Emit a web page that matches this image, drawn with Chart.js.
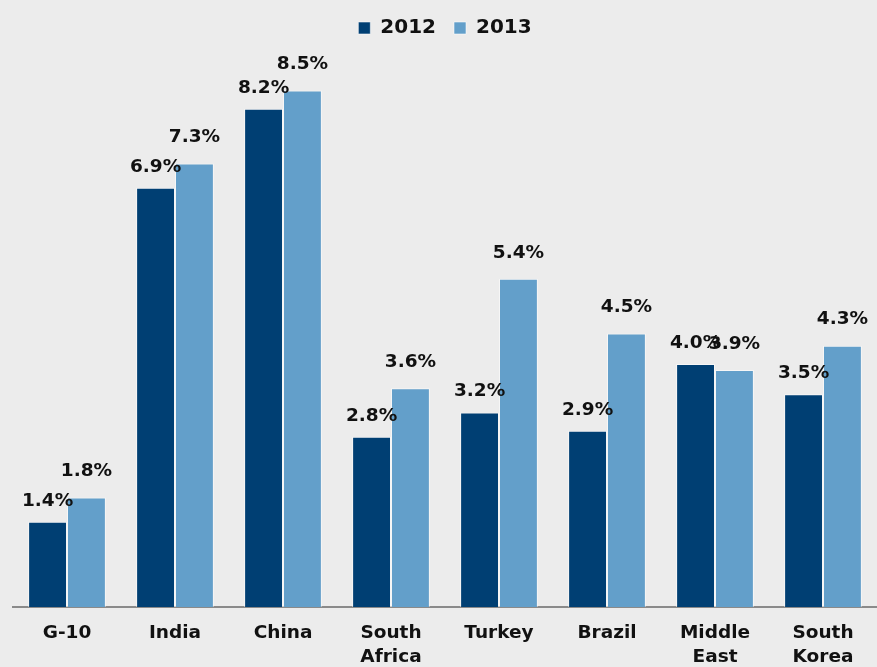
<!DOCTYPE html>
<html>
<head>
<meta charset="utf-8">
<script src="https://cdn.jsdelivr.net/npm/chart.js@4.4.0/dist/chart.umd.min.js"></script>
<style>
  html, body { margin: 0; padding: 0; background: #ececec; }
  #wrap { width: 877px; height: 667px; }
</style>
</head>
<body>
<div id="wrap"><canvas id="gdpChart"></canvas></div>
<script>
// Datos del gráfico
var categorias = ['G-10', 'India', 'China', ['South', 'Africa'], 'Turkey', 'Brazil', ['Middle', 'East'], ['South', 'Korea']];
var valores2012 = [1.4, 6.9, 8.2, 2.8, 3.2, 2.9, 4.0, 3.5];
var valores2013 = [1.8, 7.3, 8.5, 3.6, 5.4, 4.5, 3.9, 4.3];

// Plugin para escribir el valor encima de cada barra
var etiquetasBarras = {
    id: 'etiquetasBarras',
    afterDatasetsDraw: function(chart) {
        var ctx = chart.ctx;
        ctx.save();
        ctx.font = 'bold 18.5px "DejaVu Sans"';
        ctx.fillStyle = '#111111';
        ctx.textAlign = 'center';
        ctx.textBaseline = 'middle';
        chart.data.datasets.forEach(function(ds, i) {
            var meta = chart.getDatasetMeta(i);
            var offset = i === 0 ? 21 : 26;
            meta.data.forEach(function(bar, j) {
                ctx.fillText(ds.data[j].toFixed(1) + '%', bar.x, bar.y - offset);
            });
        });
        ctx.restore();
    }
};

var ctx = document.getElementById('gdpChart').getContext('2d');
var gdpChart = new Chart(ctx, {
    type: 'bar',
    data: {
        labels: categorias,
        datasets: [{
            label: '2012',
            data: valores2012,
            backgroundColor: '#003f73',
            borderColor: 'rgba(255,255,255,0.55)',
            borderWidth: 1,
            categoryPercentage: 0.72,
            barPercentage: 1.0
        },
        {
            label: '2013',
            data: valores2013,
            backgroundColor: '#639fca',
            borderColor: 'rgba(255,255,255,0.55)',
            borderWidth: 1,
            categoryPercentage: 0.72,
            barPercentage: 1.0
        }]
    },
    options: {
        responsive: true,
        maintainAspectRatio: false,
        animation: false,
        layout: {
            padding: { left: 13, right: 0, top: 0, bottom: -16 }
        },
        scales: {
            x: {
                grid: { display: false, drawTicks: false },
                border: { color: '#8a8a8a', width: 2 },
                ticks: {
                    color: '#111111',
                    font: { family: 'DejaVu Sans', weight: 'bold', size: 18.5, lineHeight: 1.3 },
                    padding: 14,
                    maxRotation: 0,
                    autoSkip: false
                }
            },
            y: {
                display: false,
                min: 0,
                max: 9.2
            }
        },
        plugins: {
            legend: {
                labels: {
                    color: '#111111',
                    boxWidth: 12,
                    boxHeight: 12,
                    padding: 18,
                    font: { family: 'DejaVu Sans', weight: 'bold', size: 20 }
                }
            },
            tooltip: { enabled: false }
        }
    },
    plugins: [etiquetasBarras]
});
</script>
</body>
</html>
